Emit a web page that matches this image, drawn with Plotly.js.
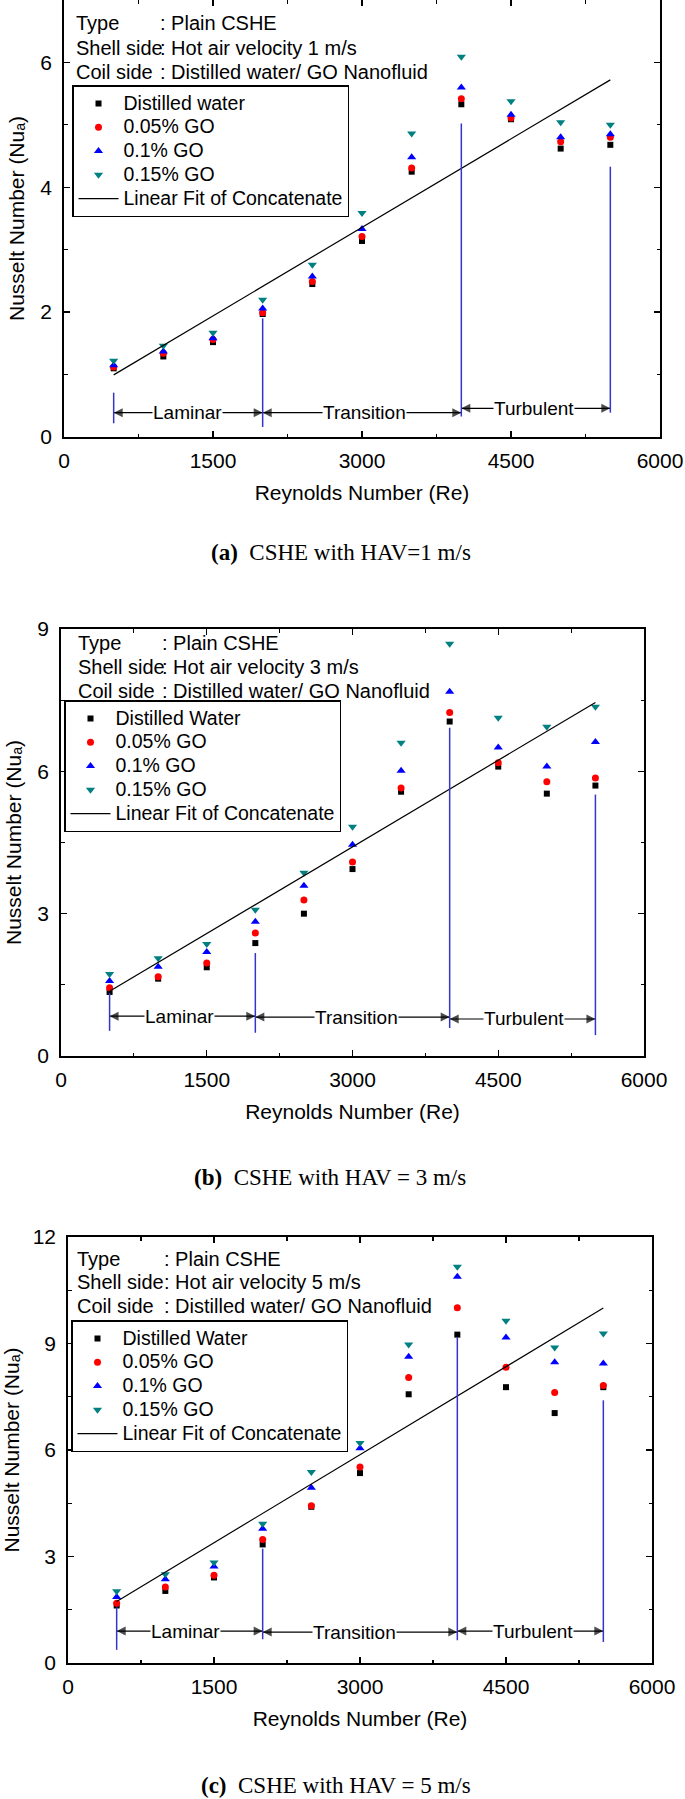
<!DOCTYPE html>
<html>
<head>
<meta charset="utf-8">
<script src="https://cdn.plot.ly/plotly-3.0.1.min.js"></script>
<style>html,body{margin:0;padding:0;background:#fff;}</style>
</head>
<body>
<div id="chart" style="width:685px;height:1799px;"></div>
<script>
// ---------------- data ----------------
const reynolds = [500, 1000, 1500, 2000, 2500, 3000, 3500, 4000, 4500, 5000, 5500];

const seriesNamesA = ['Distilled water', '0.05% GO', '0.1% GO', '0.15% GO'];
const seriesNamesBC = ['Distilled Water', '0.05% GO', '0.1% GO', '0.15% GO'];
const fitName = 'Linear Fit of Concatenate';

// (a) HAV = 1 m/s
const waterA  = [1.10, 1.29, 1.52, 1.97, 2.45, 3.14, 4.25, 5.33, 5.09, 4.62, 4.68];
const go005A  = [1.12, 1.34, 1.56, 1.99, 2.49, 3.21, 4.31, 5.42, 5.11, 4.73, 4.80];
const go01A   = [1.15, 1.37, 1.58, 2.06, 2.57, 3.33, 4.48, 5.60, 5.16, 4.80, 4.85];
const go015A  = [1.22, 1.46, 1.67, 2.20, 2.76, 3.59, 4.86, 6.09, 5.38, 5.04, 5.00];

// (b) HAV = 3 m/s
const waterB  = [1.35, 1.63, 1.87, 2.38, 3.00, 3.94, 5.57, 7.05, 6.10, 5.53, 5.70];
const go005B  = [1.44, 1.67, 1.96, 2.59, 3.29, 4.09, 5.65, 7.24, 6.18, 5.78, 5.86];
const go01B   = [1.58, 1.88, 2.19, 2.83, 3.59, 4.45, 6.01, 7.68, 6.50, 6.10, 6.62];
const go015B  = [1.73, 2.06, 2.36, 3.08, 3.86, 4.83, 6.60, 8.69, 7.13, 6.94, 7.36];

// (c) HAV = 5 m/s
const waterC  = [1.62, 2.03, 2.41, 3.34, 4.40, 5.35, 7.57, 9.25, 7.77, 7.04, 7.77];
const go005C  = [1.68, 2.14, 2.47, 3.48, 4.43, 5.52, 8.04, 10.01, 8.33, 7.62, 7.82];
const go01C   = [1.86, 2.36, 2.72, 3.78, 4.94, 6.05, 8.63, 10.88, 9.17, 8.47, 8.44];
const go015C  = [2.02, 2.50, 2.83, 3.92, 5.38, 6.20, 8.97, 11.16, 9.64, 8.89, 9.28];

// flow regimes
const regimeBounds = [500, 2000, 4000, 5500];
const regimeNames = ['Laminar', 'Transition', 'Turbulent'];
const regimeLabelReA = [1246, 3027, 4734];
const regimeLabelReB = [1222, 3041, 4767];
const regimeLabelReC = [1205, 2944, 4780];
const regimeArrowNuA = [0.39, 0.39, 0.46];
const regimeArrowNuB = [0.84, 0.82, 0.78];
const regimeArrowNuC = [0.90, 0.87, 0.90];
const boundTopA = [0.71, 1.90, 5.02, 4.33];
const boundBottomA = [0.22, 0.16, 0.33, 0.39];
const boundTopB = [1.33, 2.17, 6.92, 5.51];
const boundBottomB = [0.53, 0.49, 0.59, 0.44];
const boundTopC = [1.57, 3.22, 9.17, 7.40];
const boundBottomC = [0.37, 0.67, 0.64, 0.59];

// axes
const xTickVals = [0, 1500, 3000, 4500, 6000];
const yTickValsA = [0, 2, 4, 6];
const yTickValsB = [0, 3, 6, 9];
const yTickValsC = [0, 3, 6, 9, 12];

// texts
const hotAirVelocity = [1, 3, 5];
const infoLabels = ['Type', 'Shell side', 'Coil side'];
const captionLetters = ['(a)', '(b)', '(c)'];
const captionTexts = ['CSHE with HAV=1 m/s', 'CSHE with HAV = 3 m/s', 'CSHE with HAV = 5 m/s'];
const xTitle = 'Reynolds Number (Re)';
const yTitle = 'Nusselt Number (Nu\u2090)';

// ---------------- styling / layout ----------------
const W = 685, H = 1799;
const FONT = 'Liberation Sans, Arial, Helvetica, sans-serif';
const TITLEFONT = 'Liberation Sans, DejaVu Sans, Arial, sans-serif';
const SERIF = 'Liberation Serif, Times New Roman, serif';
const markerSymbols = ['square', 'circle', 'triangle-up', 'triangle-down'];
const markerColors = ['#000000', '#ff0000', '#0000ff', '#008080'];
const markerSizes = [6, 7, 8, 8];
const boundColor = '#3535c8';

const px2x = p => p / W;
const py2y = p => 1 - p / H;

const panels = [
  { series: [waterA, go005A, go01A, go015A], names: seriesNamesA, yMax: 7, yTicks: yTickValsA, yMinor: 1,
    labelRe: regimeLabelReA, arrowNu: regimeArrowNuA, top: boundTopA, bottom: boundBottomA,
    box: [64, 660, 0, 437], legendPos: [72, 85], infoY: [23, 48, 72], infoX: 74, colonX: 160,
    captionY: 552, captionX: 341 },
  { series: [waterB, go005B, go01B, go015B], names: seriesNamesBC, yMax: 9, yTicks: yTickValsB, yMinor: 1.5,
    labelRe: regimeLabelReB, arrowNu: regimeArrowNuB, top: boundTopB, bottom: boundBottomB,
    box: [61, 644, 629, 1056], legendPos: [64, 700], infoY: [643, 667, 691], infoX: 76, colonX: 162,
    captionY: 1177, captionX: 330 },
  { series: [waterC, go005C, go01C, go015C], names: seriesNamesBC, yMax: 12, yTicks: yTickValsC, yMinor: 1.5,
    labelRe: regimeLabelReC, arrowNu: regimeArrowNuC, top: boundTopC, bottom: boundBottomC,
    box: [68, 652, 1237, 1663], legendPos: [71, 1320], infoY: [1259, 1282, 1306], infoX: 75, colonX: 164,
    captionY: 1785, captionX: 336 }
];

function linearFit(xs, ysList) {
  const X = [], Y = [];
  ysList.forEach(ys => ys.forEach((v, i) => { X.push(xs[i]); Y.push(v); }));
  const n = X.length;
  const mx = X.reduce((a, b) => a + b, 0) / n;
  const my = Y.reduce((a, b) => a + b, 0) / n;
  let sxy = 0, sxx = 0;
  for (let i = 0; i < n; i++) { sxy += (X[i] - mx) * (Y[i] - my); sxx += (X[i] - mx) ** 2; }
  const slope = sxy / sxx;
  return { slope, intercept: my - slope * mx };
}

const traces = [];
const layout = {
  width: W, height: H,
  margin: { l: 0, r: 0, t: 0, b: 0 },
  paper_bgcolor: '#ffffff', plot_bgcolor: '#ffffff',
  font: { family: FONT, color: '#000000' },
  showlegend: true,
  annotations: [], shapes: []
};

panels.forEach((p, k) => {
  const sfx = k === 0 ? '' : String(k + 1);
  const xa = 'x' + sfx, ya = 'y' + sfx;
  const legId = 'legend' + sfx;
  const legSpan = t => '<span style="font-size:19.5px">' + t + '</span>';

  // regime arrows (drawn first, under everything)
  regimeNames.forEach((nm, i) => {
    const cx = p.labelRe[i], cy = p.arrowNu[i];
    [[regimeBounds[i], 'arrow-left'], [regimeBounds[i + 1], 'arrow-right']].forEach(([end, sym]) => {
      traces.push({
        x: [cx, end], y: [cy, cy], type: 'scatter', mode: 'lines+markers',
        xaxis: xa, yaxis: ya, showlegend: false, hoverinfo: 'skip', cliponaxis: false,
        line: { color: '#000000', width: 1.2 },
        marker: { symbol: ['circle', sym], size: [0, 9], color: '#000000', line: { width: 0 } }
      });
    });
  });

  p.series.forEach((ys, i) => {
    traces.push({
      x: reynolds, y: ys, type: 'scatter', mode: 'markers',
      name: legSpan(p.names[i]), xaxis: xa, yaxis: ya, legend: legId,
      marker: { symbol: markerSymbols[i], color: markerColors[i], size: markerSizes[i], line: { width: 0 } }
    });
  });
  const fit = linearFit(reynolds, p.series);
  const xFit = [Math.min(...reynolds), Math.max(...reynolds)];
  traces.push({
    x: xFit, y: xFit.map(v => fit.intercept + fit.slope * v), type: 'scatter', mode: 'lines',
    name: legSpan(fitName), xaxis: xa, yaxis: ya, legend: legId,
    line: { color: '#000000', width: 1.2 }
  });

  const [xl, xr, yt, yb] = p.box;
  const axisCommon = {
    showline: true, linecolor: '#000000', linewidth: 1.8, mirror: 'allticks',
    ticks: 'inside', ticklen: 6, tickwidth: 1.4, tickcolor: '#000000',
    showgrid: false, zeroline: false, automargin: false,
    tickfont: { family: FONT, size: 21, color: '#000000' }
  };
  layout['xaxis' + sfx] = Object.assign({}, axisCommon, {
    domain: [px2x(xl), px2x(xr)], anchor: ya, range: [0, 6000],
    tickmode: 'array', tickvals: xTickVals, ticklabelstandoff: 4,
    minor: { dtick: 750, tick0: 0, ticks: 'inside', ticklen: 3.5, tickwidth: 1.2, tickcolor: '#000000', showgrid: false },
    title: { text: xTitle, font: { family: FONT, size: 21 }, standoff: 14 }
  });
  layout['yaxis' + sfx] = Object.assign({}, axisCommon, {
    domain: [py2y(yb), py2y(yt)], anchor: xa, range: [0, p.yMax],
    tickmode: 'array', tickvals: p.yTicks, ticklabelstandoff: 6,
    minor: { dtick: p.yMinor, tick0: 0, ticks: 'inside', ticklen: 3.5, tickwidth: 1.2, tickcolor: '#000000', showgrid: false },
    title: { text: yTitle, font: { family: TITLEFONT, size: 21 }, standoff: 10 }
  });

  layout[legId] = {
    x: px2x(p.legendPos[0]), y: py2y(p.legendPos[1]), xanchor: 'left', yanchor: 'top',
    xref: 'paper', yref: 'paper',
    bgcolor: '#ffffff', bordercolor: '#000000', borderwidth: 1.5,
    font: { family: FONT, size: 16, color: '#000000' }, itemwidth: 40, tracegroupgap: 0
  };

  // regime boundary lines
  regimeBounds.forEach((b, i) => {
    layout.shapes.push({
      type: 'line', xref: xa, yref: ya, x0: b, x1: b, y0: p.bottom[i], y1: p.top[i],
      line: { color: boundColor, width: 1.5 }
    });
  });
  // regime labels
  regimeNames.forEach((nm, i) => {
    layout.annotations.push({
      xref: xa, yref: ya, x: p.labelRe[i], y: p.arrowNu[i], text: nm, showarrow: false,
      bgcolor: '#ffffff', borderpad: 0, font: { family: FONT, size: 19 }
    });
  });

  // info text
  const infoValues = [': Plain CSHE', ': Hot air velocity ' + hotAirVelocity[k] + ' m/s', ': Distilled water/ GO Nanofluid'];
  infoLabels.forEach((lab, i) => {
    layout.annotations.push({
      xref: 'paper', yref: 'paper', x: px2x(p.infoX), y: py2y(p.infoY[i]), xanchor: 'left', yanchor: 'middle',
      text: lab, showarrow: false, font: { family: FONT, size: 20 }
    });
    layout.annotations.push({
      xref: 'paper', yref: 'paper', x: px2x(p.colonX - 2), y: py2y(p.infoY[i]), xanchor: 'left', yanchor: 'middle',
      text: infoValues[i], showarrow: false, font: { family: FONT, size: 20 }
    });
  });

  // caption
  layout.annotations.push({
    xref: 'paper', yref: 'paper', x: px2x(p.captionX), y: py2y(p.captionY), xanchor: 'center', yanchor: 'middle',
    text: '<b>' + captionLetters[k] + '</b>\u00a0\u00a0' + captionTexts[k], showarrow: false,
    font: { family: SERIF, size: 23 }
  });
});

Plotly.newPlot('chart', traces, layout, { displayModeBar: false, staticPlot: true });
</script>
</body>
</html>
